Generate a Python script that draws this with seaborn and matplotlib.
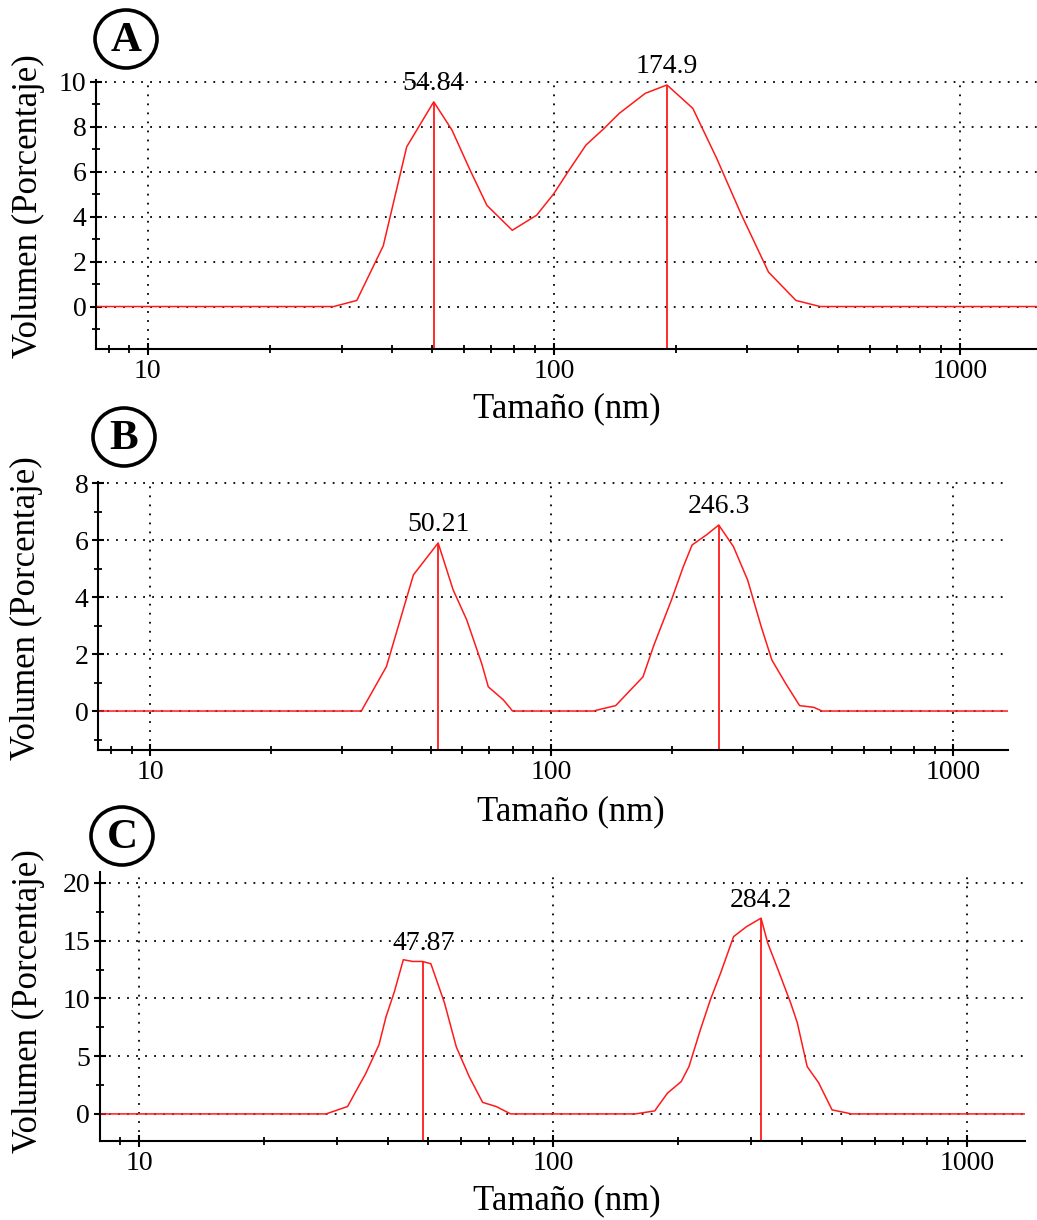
import matplotlib
matplotlib.use("Agg")
import matplotlib.pyplot as plt
from matplotlib.patches import Ellipse
from matplotlib.ticker import MultipleLocator, FuncFormatter, NullFormatter, LogLocator
import numpy as np
import pandas as pd
import seaborn as sns

# ---- data (size in nm, volume in %) ----
size_a = [0.4, 28.7, 32.7, 38.0, 43.4, 50.6, 56.1, 62.2, 68.4, 79.0, 90.7, 100, 109, 120,
          133, 145, 168, 190, 220, 252, 289, 338, 395, 453, 10000]
vol_a = [0, 0, 0.27, 2.7, 7.1, 9.1, 7.85, 6.06, 4.5, 3.39, 4.06, 5.02, 6.06, 7.18,
         7.92, 8.59, 9.48, 9.85, 8.81, 6.58, 4.13, 1.53, 0.27, 0, 0]

size_b = [0.4, 33.6, 38.8, 45.3, 52.2, 56.9, 61.5, 67.0, 69.6, 75.9, 80.0, 127, 144.5,
          169, 180, 199, 213, 224, 243, 261, 284, 308, 333, 354, 383, 415, 450, 472, 10000]
vol_b = [0, 0, 1.56, 4.78, 5.9, 4.25, 3.2, 1.67, 0.85, 0.39, 0, 0, 0.19,
         1.2, 2.32, 3.9, 5.07, 5.83, 6.18, 6.53, 5.77, 4.6, 2.96, 1.79, 0.97, 0.19, 0.13, 0, 0]

size_c = [0.4, 28.3, 31.9, 33.7, 35.3, 38.0, 39.5, 41.4, 43.5, 45.8, 48.4, 50.7, 54.7,
          58.4, 62.8, 67.6, 72.9, 79.0, 158, 176, 189, 204, 213, 227, 240, 254, 273,
          293, 318, 330, 352, 375, 389, 411, 438, 472, 526, 10000]
vol_c = [0, 0, 0.64, 2.2, 3.5, 6.0, 8.4, 10.6, 13.35, 13.2, 13.2, 13.0, 9.6,
         5.8, 3.2, 1.0, 0.64, 0, 0, 0.26, 1.8, 2.8, 4.1, 7.3, 9.9, 12.2, 15.35,
         16.2, 16.95, 14.8, 12.2, 9.6, 7.9, 4.1, 2.7, 0.35, 0, 0]

# marked peaks: position on the size axis, height, printed label
peaks_a_x = [50.6, 190]
peaks_a_y = [9.11, 9.85]
peaks_a_lab = ["54.84", "174.9"]

peaks_b_x = [52.2, 261]
peaks_b_y = [5.9, 6.53]
peaks_b_lab = ["50.21", "246.3"]

peaks_c_x = [48.6, 318]
peaks_c_y = [13.2, 16.95]
peaks_c_lab = ["47.87", "284.2"]

panel_letters = ["A", "B", "C"]
xlabel = "Tamaño (nm)"
ylabel = "Volumen (Porcentaje)"

sns.set_theme(style="white")
plt.rcParams["font.family"] = ["Liberation Serif", "DejaVu Serif"]
plt.rcParams["axes.edgecolor"] = "black"
plt.rcParams["axes.linewidth"] = 1.5
plt.rcParams["text.color"] = "black"
plt.rcParams["axes.labelcolor"] = "black"
plt.rcParams["xtick.color"] = "black"
plt.rcParams["ytick.color"] = "black"

RED = "#ff1a1a"

fig = plt.figure(figsize=(10.37, 12.2), dpi=100)

panels = [
    dict(rect=[0.0926, 0.7139, 0.9074, 0.2205], x=size_a, y=vol_a,
         px=peaks_a_x, py=peaks_a_y, lab=peaks_a_lab,
         xlim=(7.45, 1550), ylim=(-1.89, 10.07), major=2, minor=1,
         ylab=(-0.054, 0.53), xlab=(0.50, -0.16), circle=(126, 39)),
    dict(rect=[0.0945, 0.3852, 0.8775, 0.2197], x=size_b, y=vol_b,
         px=peaks_b_x, py=peaks_b_y, lab=peaks_b_lab,
         xlim=(7.42, 1371), ylim=(-1.37, 8.04), major=2, minor=1,
         ylab=(-0.060, 0.53), xlab=(0.52, -0.168), circle=(124, 437)),
    dict(rect=[0.0964, 0.0648, 0.8920, 0.2205], x=size_c, y=vol_c,
         px=peaks_c_x, py=peaks_c_y, lab=peaks_c_lab,
         xlim=(8.05, 1380), ylim=(-2.34, 20.95), major=5, minor=2.5,
         ylab=(-0.059, 0.52), xlab=(0.505, -0.163), circle=(122, 836)),
]

for p, letter in zip(panels, panel_letters):
    ax = fig.add_axes(p["rect"])
    ax.set_xscale("log")
    df = pd.DataFrame({"size": p["x"], "vol": p["y"]})
    sns.lineplot(data=df, x="size", y="vol", ax=ax, color=RED, linewidth=1.1, sort=False)
    ax.set_xlim(*p["xlim"])
    ax.set_ylim(*p["ylim"])
    ax.vlines(p["px"], p["ylim"][0], p["py"], color=RED, linewidth=1.3)
    for xx, yy, t in zip(p["px"], p["py"], p["lab"]):
        ax.annotate(t, (xx, yy), xytext=(0, 4), textcoords="offset points",
                    ha="center", va="bottom", fontsize=20)

    # axes styling
    for s in ["top", "right"]:
        ax.spines[s].set_visible(False)
    ax.yaxis.set_major_locator(MultipleLocator(p["major"]))
    ax.yaxis.set_minor_locator(MultipleLocator(p["minor"]))
    ax.yaxis.set_major_formatter(FuncFormatter(lambda v, _: f"{v:g}"))
    ax.xaxis.set_major_locator(LogLocator(base=10))
    ax.xaxis.set_minor_locator(LogLocator(base=10, subs=np.arange(2, 10)))
    ax.xaxis.set_major_formatter(FuncFormatter(lambda v, _: f"{v:g}"))
    ax.xaxis.set_minor_formatter(NullFormatter())
    ax.tick_params(which="major", direction="inout", length=8, width=1.5,
                   labelsize=20, color="black", bottom=True, left=True, pad=3)
    ax.tick_params(which="minor", direction="inout", length=6, width=1.3,
                   color="black", bottom=True, left=True)
    ax.grid(True, which="major", color="black", linestyle=(0, (1, 4)), linewidth=1.3)

    ax.set_xlabel(xlabel, fontsize=25)
    ax.set_ylabel(ylabel, fontsize=25)
    ax.yaxis.set_label_coords(*p["ylab"])
    ax.xaxis.set_label_coords(*p["xlab"])

    # circled panel letter (pixel position converted to figure fraction)
    cx, cy = p["circle"]
    fx, fy = cx / 1037, 1 - cy / 1220
    fig.patches.append(Ellipse((fx, fy), 62 / 1037, 58 / 1220, transform=fig.transFigure,
                               facecolor="white", edgecolor="black", linewidth=2.6))
    fig.text(fx, fy - 0.002, letter, ha="center", va="center",
             fontsize=31, fontweight="bold")

fig.savefig("out.png", dpi=100)
